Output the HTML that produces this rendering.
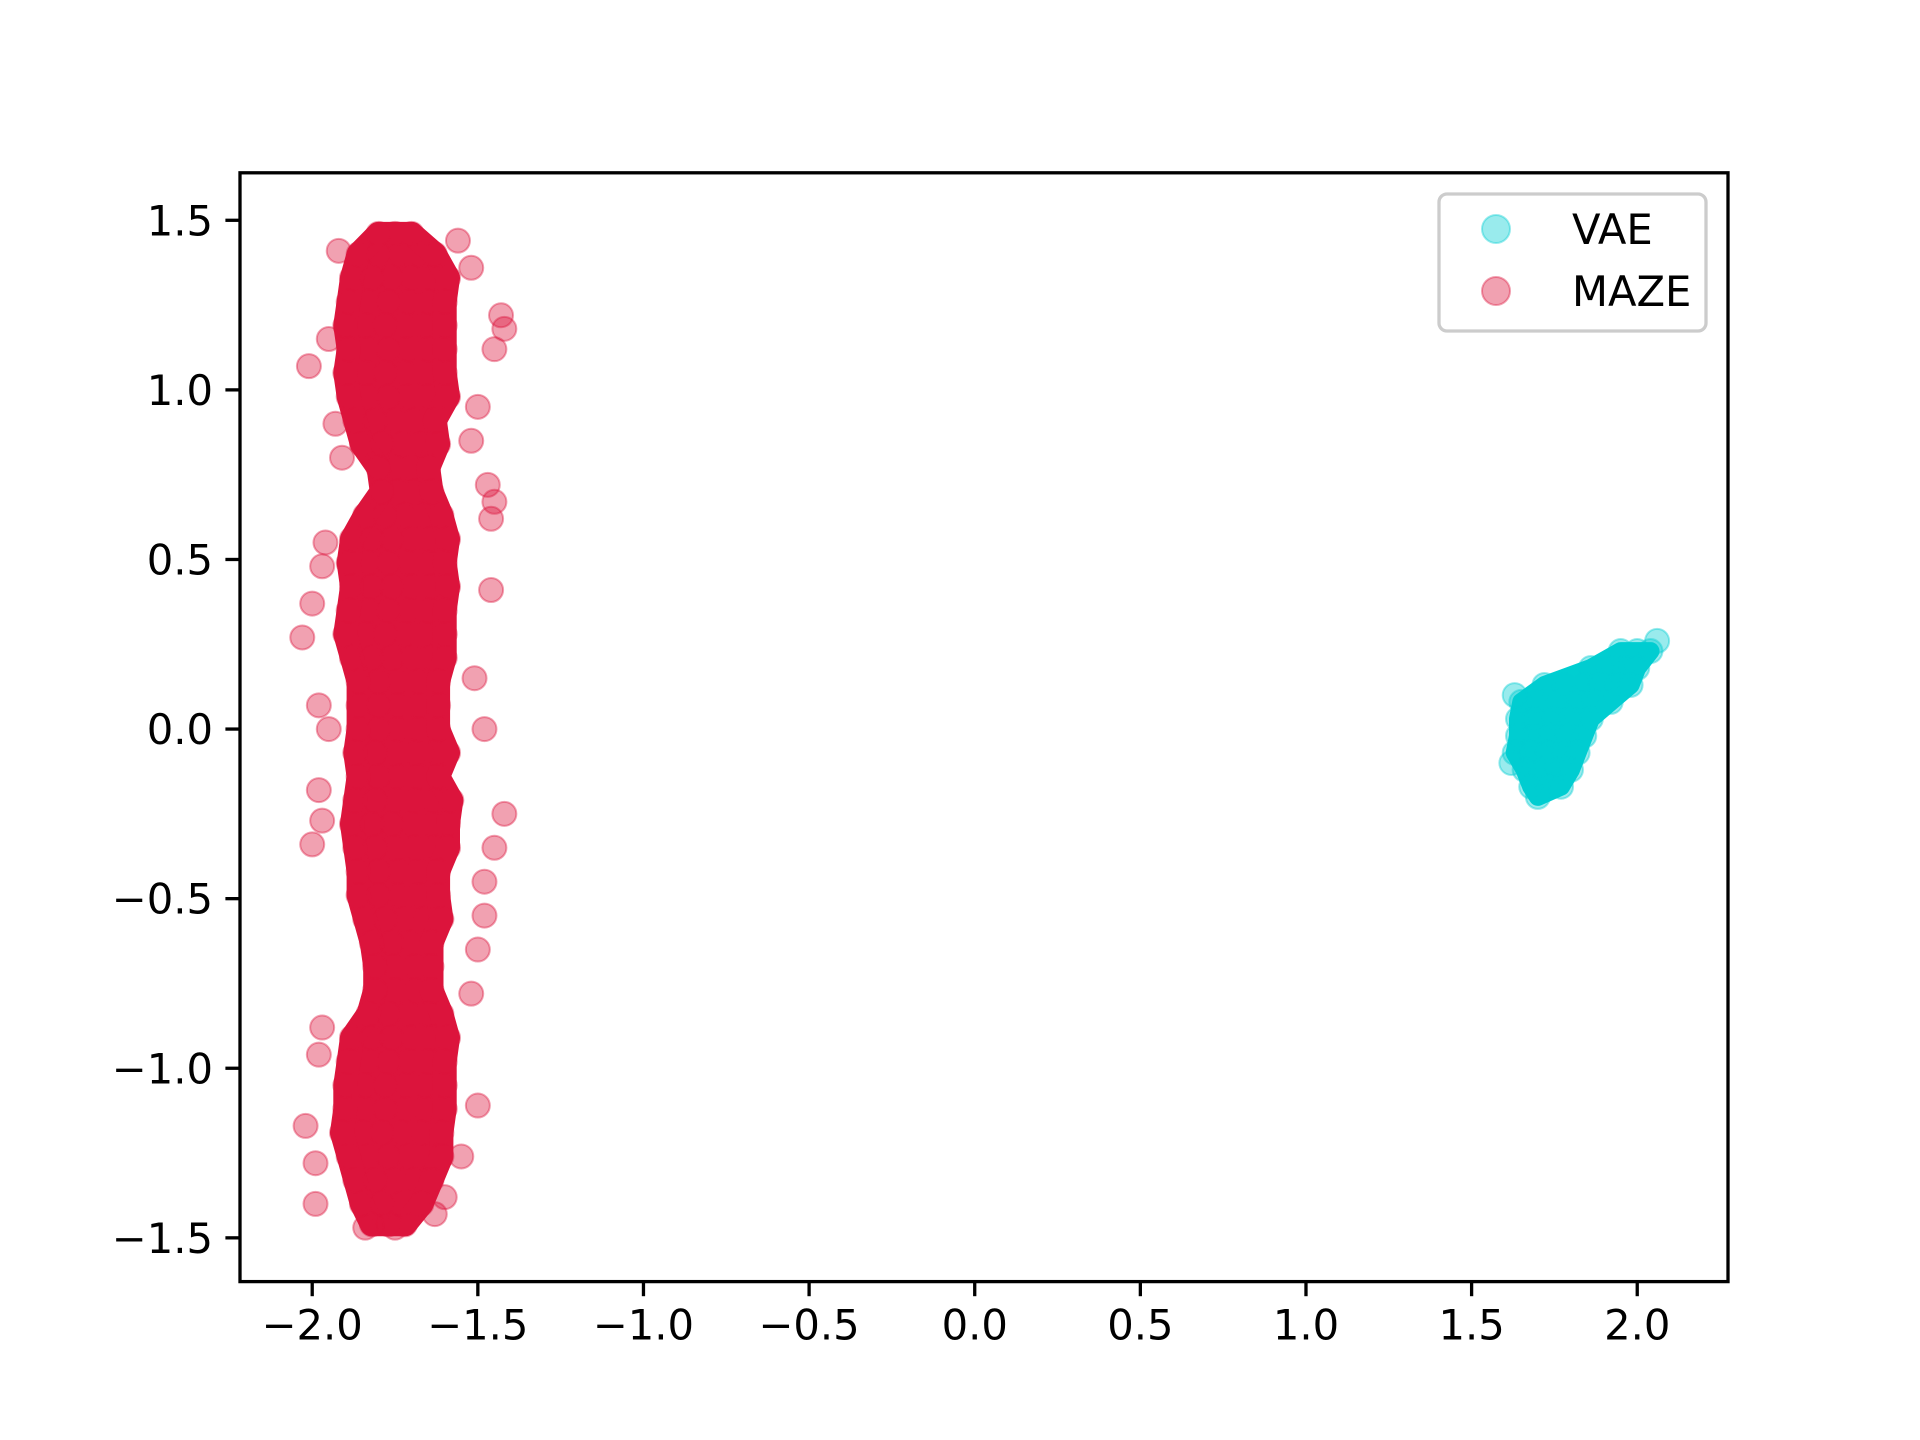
<!DOCTYPE html>
<html><head><meta charset="utf-8"><style>
html,body{margin:0;padding:0;background:#fff;}
svg{display:block;font-family:"DejaVu Sans","Liberation Sans",sans-serif;}
</style></head><body>
<svg id="chart" width="1920" height="1440" viewBox="0 0 1920 1440" xmlns="http://www.w3.org/2000/svg">
<rect width="1920" height="1440" fill="#fff"/>
<g id="plot"></g>
<g id="axes"></g>
<g id="legend"></g>
</svg>
<script>
const xTicks=[-2.0,-1.5,-1.0,-0.5,0.0,0.5,1.0,1.5,2.0];
const xTickLabels=["−2.0","−1.5","−1.0","−0.5","0.0","0.5","1.0","1.5","2.0"];
const yTicks=[1.5,1.0,0.5,0.0,-0.5,-1.0,-1.5];
const yTickLabels=["1.5","1.0","0.5","0.0","−0.5","−1.0","−1.5"];
const seriesNames=["VAE","MAZE"];
const mazeRows=[
[1.46,[-1.80,-1.75,-1.70]],
[1.40,[-1.86,-1.80,-1.74,-1.68,-1.63]],
[1.33,[-1.88,-1.82,-1.76,-1.70,-1.64,-1.59]],
[1.26,[-1.89,-1.83,-1.77,-1.71,-1.65,-1.60]],
[1.19,[-1.90,-1.84,-1.78,-1.72,-1.66,-1.60]],
[1.12,[-1.89,-1.83,-1.77,-1.71,-1.65,-1.60]],
[1.05,[-1.90,-1.84,-1.78,-1.72,-1.66,-1.60]],
[0.98,[-1.89,-1.83,-1.77,-1.71,-1.65,-1.59]],
[0.91,[-1.87,-1.81,-1.75,-1.69,-1.63]],
[0.84,[-1.85,-1.79,-1.73,-1.67,-1.62]],
[0.77,[-1.80,-1.75,-1.70,-1.65]],
[0.70,[-1.79,-1.74,-1.69,-1.64]],
[0.63,[-1.84,-1.78,-1.72,-1.66,-1.61]],
[0.56,[-1.88,-1.82,-1.76,-1.70,-1.64,-1.59]],
[0.49,[-1.89,-1.83,-1.77,-1.71,-1.65,-1.60]],
[0.42,[-1.88,-1.82,-1.76,-1.70,-1.64,-1.59]],
[0.35,[-1.89,-1.83,-1.77,-1.71,-1.65,-1.60]],
[0.28,[-1.90,-1.84,-1.78,-1.72,-1.66,-1.60]],
[0.21,[-1.88,-1.82,-1.76,-1.70,-1.64,-1.60]],
[0.14,[-1.86,-1.80,-1.74,-1.68,-1.62]],
[0.07,[-1.86,-1.80,-1.74,-1.68,-1.62]],
[0.00,[-1.86,-1.80,-1.74,-1.68,-1.62]],
[-0.07,[-1.87,-1.81,-1.75,-1.69,-1.63,-1.59]],
[-0.14,[-1.86,-1.80,-1.74,-1.68,-1.62]],
[-0.21,[-1.87,-1.81,-1.75,-1.69,-1.63,-1.58]],
[-0.28,[-1.88,-1.82,-1.76,-1.70,-1.64,-1.59]],
[-0.35,[-1.87,-1.81,-1.75,-1.69,-1.63,-1.59]],
[-0.42,[-1.86,-1.80,-1.74,-1.68,-1.62]],
[-0.49,[-1.86,-1.80,-1.74,-1.68,-1.62]],
[-0.56,[-1.84,-1.78,-1.72,-1.66,-1.61]],
[-0.63,[-1.82,-1.76,-1.70,-1.64]],
[-0.70,[-1.81,-1.75,-1.69,-1.64]],
[-0.77,[-1.81,-1.75,-1.69,-1.64]],
[-0.84,[-1.83,-1.77,-1.71,-1.65,-1.61]],
[-0.91,[-1.88,-1.82,-1.76,-1.70,-1.64,-1.59]],
[-0.98,[-1.89,-1.83,-1.77,-1.71,-1.65,-1.60]],
[-1.05,[-1.90,-1.84,-1.78,-1.72,-1.66,-1.60]],
[-1.12,[-1.90,-1.84,-1.78,-1.72,-1.66,-1.60]],
[-1.19,[-1.91,-1.85,-1.79,-1.73,-1.67,-1.61]],
[-1.26,[-1.89,-1.83,-1.77,-1.71,-1.65,-1.61]],
[-1.33,[-1.87,-1.81,-1.75,-1.69,-1.64]],
[-1.40,[-1.85,-1.79,-1.73,-1.67]],
[-1.46,[-1.82,-1.77,-1.72]]
];
const mazeOutliers=[[-2.01,1.07],[-1.95,1.15],[-1.92,1.41],[-1.43,1.22],[-1.42,1.18],[-1.45,1.12],[-1.52,1.36],[-1.56,1.44],[-1.50,0.95],[-1.52,0.85],[-1.47,0.72],[-1.45,0.67],[-1.46,0.62],[-1.96,0.55],[-1.97,0.48],[-2.00,0.37],[-2.03,0.27],[-1.98,0.07],[-1.95,0.00],[-1.46,0.41],[-1.51,0.15],[-1.48,0.00],[-1.42,-0.25],[-1.45,-0.35],[-1.98,-0.18],[-2.00,-0.34],[-1.97,-0.27],[-1.48,-0.55],[-1.50,-0.65],[-1.52,-0.78],[-1.97,-0.88],[-1.98,-0.96],[-2.02,-1.17],[-1.99,-1.28],[-1.99,-1.40],[-1.50,-1.11],[-1.55,-1.26],[-1.60,-1.38],[-1.63,-1.43],[-1.84,-1.47],[-1.75,-1.47],[-1.48,-0.45],[-1.91,0.80],[-1.93,0.90]];
const vaeRows=[
[0.23,[1.95,2.00,2.04]],
[0.18,[1.86,1.91,1.96,2.00]],
[0.13,[1.72,1.78,1.84,1.89,1.94,1.98]],
[0.08,[1.65,1.70,1.76,1.82,1.87,1.92]],
[0.03,[1.64,1.69,1.75,1.80,1.86]],
[-0.02,[1.64,1.69,1.74,1.79,1.84]],
[-0.07,[1.63,1.68,1.73,1.78,1.82]],
[-0.12,[1.66,1.71,1.76,1.80]],
[-0.17,[1.68,1.73,1.77]],
[-0.20,[1.70]]
];
const vaeOutliers=[[2.06,0.26],[1.62,-0.10],[1.63,0.10]];

const NS="http://www.w3.org/2000/svg";
const L=240,R=1728,T=172.8,B=1281.6;
const xMin=-2.218,xMax=2.274,yMin=-1.629,yMax=1.640;
function sx(v){return L+(v-xMin)/(xMax-xMin)*(R-L);}
function sy(v){return B-(v-yMin)/(yMax-yMin)*(B-T);}
function mk(tag,attrs,parent){const e=document.createElementNS(NS,tag);for(const k in attrs)e.setAttribute(k,attrs[k]);parent.appendChild(e);return e;}
const plot=document.getElementById('plot'),axes=document.getElementById('axes'),leg=document.getElementById('legend');
function pts(rows,outs){const o=[];rows.forEach(r=>r[1].forEach(x=>o.push([x,r[0]])));outs.forEach(p=>o.push(p));return o;}
function core(rows,color,name,sw){
  const left=[],right=[];
  rows.forEach(r=>{const xs=r[1];left.push([sx(Math.min(...xs)),sy(r[0])]);right.push([sx(Math.max(...xs)),sy(r[0])]);});
  const all=left.concat(right.reverse());
  const p=mk('polygon',{points:all.map(q=>q[0].toFixed(1)+','+q[1].toFixed(1)).join(' '),fill:color,stroke:color,'stroke-width':sw,'stroke-linejoin':'round'},plot);
  
  
}
function draw(points,fill,name){
  points.forEach(p=>{
    const c=mk('circle',{cx:sx(p[0]),cy:sy(p[1]),r:12,fill:fill,'fill-opacity':0.4,stroke:fill,'stroke-opacity':0.4,'stroke-width':2},plot);
    
    
  });
}
core(vaeRows,'#00CED1','vae-dense-core',18);
draw(pts(vaeRows,vaeOutliers),'#00CED1','vae-point');
core(mazeRows,'#DC143C','maze-dense-core',24);
draw(pts(mazeRows,mazeOutliers),'#DC143C','maze-point');
const frame=mk('rect',{x:L,y:T,width:R-L,height:B-T,fill:'none',stroke:'#000','stroke-width':3.3},axes);


xTicks.forEach((v,i)=>{
  const x=sx(v);
  const t=mk('line',{x1:x,x2:x,y1:B,y2:B+14.6,stroke:'#000','stroke-width':3.3},axes);
  
  
  const tx=mk('text',{x:x,y:B+58,'text-anchor':'middle','font-size':41.7,fill:'#000'},axes);
  tx.textContent=xTickLabels[i];
  
  
});
yTicks.forEach((v,i)=>{
  const y=sy(v);
  const t=mk('line',{x1:L-14.6,x2:L,y1:y,y2:y,stroke:'#000','stroke-width':3.3},axes);
  
  
  const tx=mk('text',{x:L-27,y:y+15,'text-anchor':'end','font-size':41.7,fill:'#000'},axes);
  tx.textContent=yTickLabels[i];
  
  
});
const box=mk('rect',{x:1439,y:194,width:267,height:137,rx:8,fill:'#fff','fill-opacity':0.8,stroke:'#ccc','stroke-width':3.3},leg);


const legCols=['#00CED1','#DC143C'];
seriesNames.forEach((n,i)=>{
  const y=229+i*62;
  const c=mk('circle',{cx:1496,cy:y,r:14,fill:legCols[i],'fill-opacity':0.4,stroke:legCols[i],'stroke-opacity':0.4,'stroke-width':2},leg);
  
  
  const t=mk('text',{x:1572,y:y+15,'font-size':41.7,fill:'#000'},leg);
  t.textContent=n;
  
  
});
</script>
</body></html>
